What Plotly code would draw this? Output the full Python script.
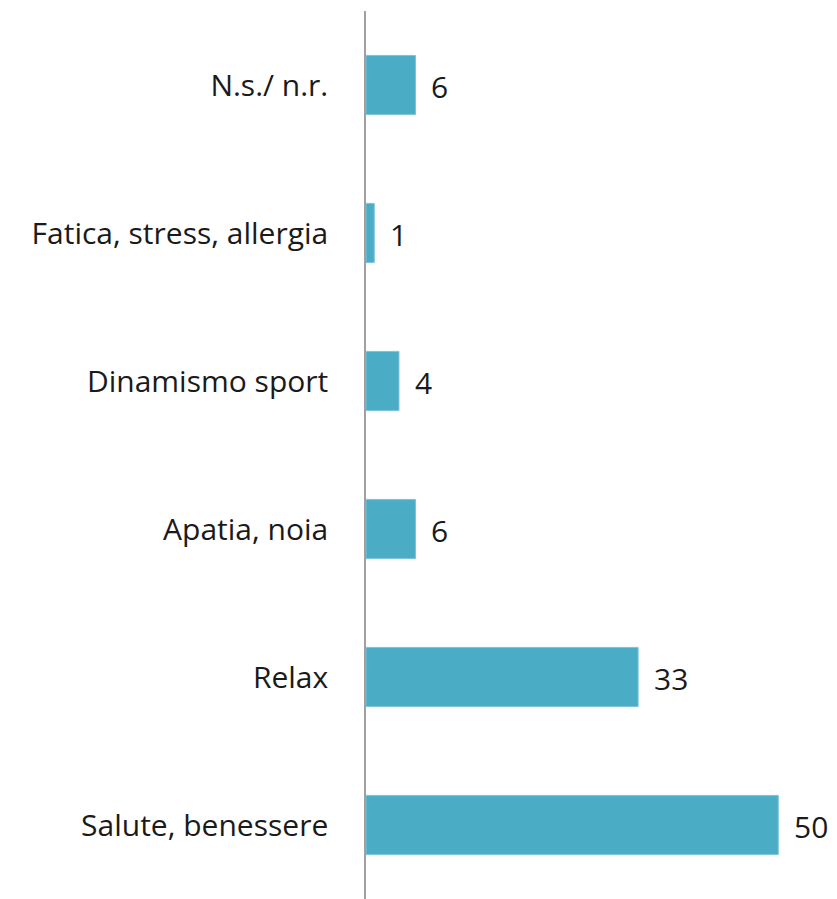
import plotly.graph_objects as go

categories = ["Salute, benessere", "Relax", "Apatia, noia", "Dinamismo sport",
              "Fatica, stress, allergia", "N.s./ n.r."]
values = [50, 33, 6, 4, 1, 6]

BAR = "#4BACC6"
FONT = "Open Sans, Calibri, Carlito, sans-serif"

fig = go.Figure()
fig.add_trace(go.Bar(
    x=values, y=categories, orientation="h",
    marker=dict(color=BAR, line=dict(color="#7CC4D8", width=1)),
    width=0.4, showlegend=False, hoverinfo="skip",
))

for c, v in zip(categories, values):
    fig.add_annotation(x=v, y=c, text=str(v), showarrow=False,
                       xanchor="left", yanchor="middle", xshift=14, yshift=-1,
                       font=dict(family=FONT, size=30, color="#1a1a1a"))

fig.update_layout(
    width=829, height=891,
    margin=dict(l=358, r=1, t=3, b=0),
    paper_bgcolor="white", plot_bgcolor="white",
    bargap=0.6,
    xaxis=dict(range=[0, 57], showgrid=False, zeroline=False, showticklabels=False,
               showline=False, fixedrange=True),
    yaxis=dict(categoryorder="array", categoryarray=categories,
               range=[-0.5, 5.5],
               showgrid=False, zeroline=False, showline=True,
               linecolor="#A0A0A0", linewidth=1.5, ticks="",
               ticklabelstandoff=30,
               tickfont=dict(family=FONT, size=30, color="#1a1a1a")),
)

fig.write_html("out.html")
